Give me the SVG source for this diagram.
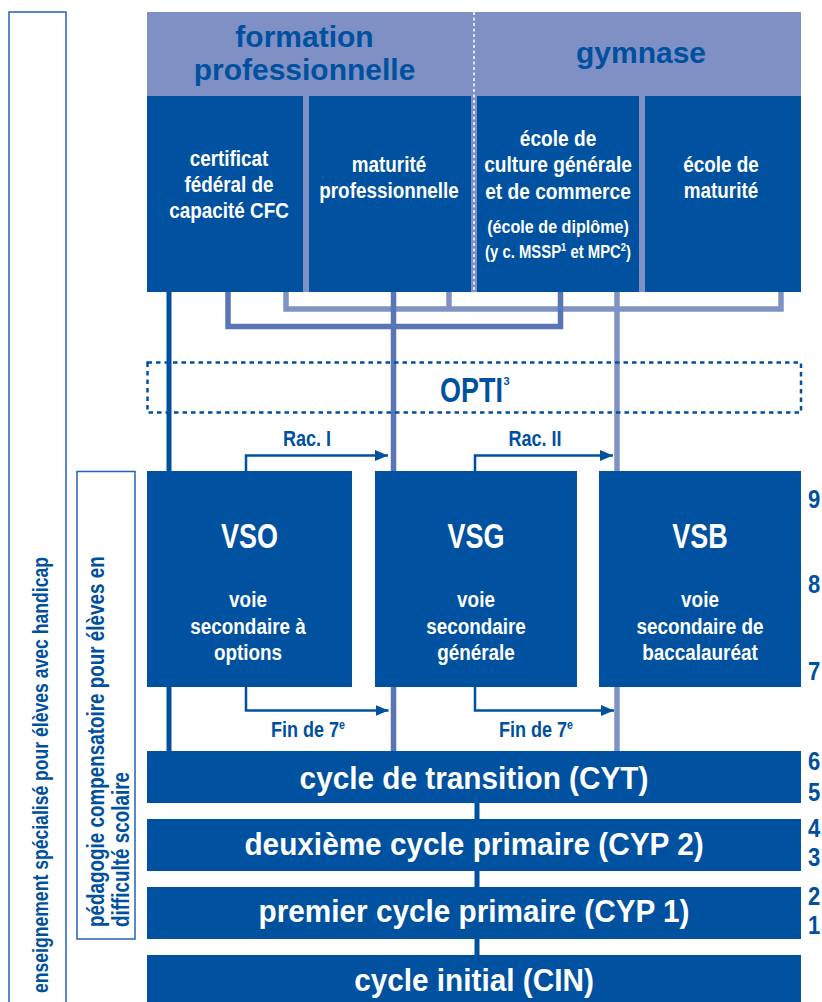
<svg xmlns="http://www.w3.org/2000/svg" width="822" height="1002" viewBox="0 0 822 1002">
<defs>
<style>
.t{font-family:"Liberation Sans",Arial,sans-serif;font-weight:bold}
.w{fill:#fff}
.b{fill:#0050a0}
.box{fill:#0052a0}
.frame{fill:none;stroke:#2462b2;stroke-width:1.5}
.dk{fill:none;stroke:#0050a0;stroke-width:5}
.md{fill:none;stroke:#5a75b6;stroke-width:5.5}
.lt{fill:none;stroke:#7f92c4;stroke-width:5.5}
.arr{fill:none;stroke:#0050a0;stroke-width:2.5;marker-end:url(#ah)}
.body{font-size:22.5px}
.title{font-size:35px}
.bar{font-size:32px}
.lab{font-size:22px}
.num{font-size:26.5px}
.head{font-size:30px}
</style>
<marker id="ah" markerUnits="userSpaceOnUse" markerWidth="14" markerHeight="12" refX="13" refY="6" orient="auto">
<path d="M0,0.5 L13,6 L0,11.5 Z" fill="#0050a0"/>
</marker>
</defs>
<rect width="822" height="1002" fill="#fff"/>

<g id="special-education">
<rect class="frame" x="9" y="12" width="57" height="1000"/>
<text class="t b" font-size="22" transform="translate(48,993) rotate(-90) scale(0.8,1)">enseignement spécialisé pour élèves avec handicap</text>
</g>

<g id="compensatory-pedagogy">
<rect class="frame" x="77" y="471.5" width="58" height="467.5"/>
<text class="t b" font-size="23" transform="translate(104,927) rotate(-90) scale(0.82,1)">pédagogie compensatoire pour élèves en</text>
<text class="t b" font-size="23" transform="translate(129,927) rotate(-90) scale(0.82,1)">difficulté scolaire</text>
</g>

<g id="header-band">
<rect x="147" y="12" width="654" height="280" fill="#7f91c4"/>
<line x1="474" y1="12" x2="474" y2="292" stroke="#fff" stroke-width="1.5" stroke-dasharray="3 2.5"/>
</g>
<g id="formation-professionnelle">
<text class="t b head" text-anchor="middle" x="304.5" y="46.5">formation</text>
<text class="t b head" text-anchor="middle" x="304.5" y="80">professionnelle</text>
</g>
<g id="gymnase">
<text class="t b head" text-anchor="middle" x="641" y="63">gymnase</text>
</g>

<g id="connectors">
<path class="lt" d="M286,292 V309 H781 V292"/>
<path class="lt" d="M449,292 V309"/>
<path class="lt" d="M617,292 V751"/>
<path class="md" d="M228,292 V326.5 H560.5 V292"/>
<path class="md" d="M393.5,292 V751"/>
<path class="dk" d="M169,292 V751"/>
<path class="dk" d="M477,803 V955"/>
<path class="arr" d="M246,471 V455.5 H388"/>
<path class="arr" d="M475,471 V455.5 H613"/>
<path class="arr" d="M246,687 V710.5 H388.5"/>
<path class="arr" d="M475,687 V710.5 H614"/>
<text class="t b lab" text-anchor="middle" transform="translate(307,446) scale(0.82,1)">Rac. I</text>
<text class="t b lab" text-anchor="middle" transform="translate(535,446) scale(0.82,1)">Rac. II</text>
<text class="t b lab" text-anchor="middle" transform="translate(308,737) scale(0.82,1)">Fin de 7<tspan font-size="13" dy="-8">e</tspan></text>
<text class="t b lab" text-anchor="middle" transform="translate(536,737) scale(0.82,1)">Fin de 7<tspan font-size="13" dy="-8">e</tspan></text>
</g>

<g id="cfc">
<rect class="box" x="147" y="96" width="156" height="196"/>
<g transform="translate(229,0) scale(0.84,1)">
<text class="t w body" text-anchor="middle" x="0" y="166">certificat</text>
<text class="t w body" text-anchor="middle" x="0" y="192">fédéral de</text>
<text class="t w body" text-anchor="middle" x="0" y="218">capacité CFC</text>
</g>
</g>

<g id="maturite-professionnelle">
<rect class="box" x="309" y="96" width="162" height="196"/>
<g transform="translate(389,0) scale(0.84,1)">
<text class="t w body" text-anchor="middle" x="0" y="172">maturité</text>
<text class="t w body" text-anchor="middle" x="0" y="198.5">professionnelle</text>
</g>
</g>

<g id="ecole-culture-generale">
<rect class="box" x="477" y="96" width="162" height="196"/>
<g transform="translate(558,0) scale(0.85,1)">
<text class="t w body" text-anchor="middle" x="0" y="146">école de</text>
<text class="t w body" text-anchor="middle" x="0" y="172.5">culture générale</text>
<text class="t w body" text-anchor="middle" x="0" y="199">et de commerce</text>
<text class="t w" font-size="19" text-anchor="middle" x="0" y="233">(école de diplôme)</text>
<text class="t w" font-size="17.5" text-anchor="middle" x="0" y="258">(y c. MSSP<tspan font-size="11" dy="-7">1</tspan><tspan dy="7"> et MPC</tspan><tspan font-size="11" dy="-7">2</tspan><tspan dy="7">)</tspan></text>
</g>
</g>

<g id="ecole-maturite">
<rect class="box" x="645" y="96" width="156" height="196"/>
<g transform="translate(721,0) scale(0.84,1)">
<text class="t w body" text-anchor="middle" x="0" y="172">école de</text>
<text class="t w body" text-anchor="middle" x="0" y="198.5">maturité</text>
</g>
</g>

<g id="opti">
<rect x="147.5" y="362.5" width="653.5" height="50" fill="none" stroke="#0050a0" stroke-width="2.5" stroke-dasharray="4.5 4"/>
<text class="t b title" text-anchor="middle" transform="translate(471.5,402) scale(0.77,1)">OPTI</text>
<text class="t b" font-size="11" x="503.5" y="385">3</text>
</g>

<g id="vso">
<rect class="box" x="147" y="471" width="205" height="216"/>
<text class="t w title" text-anchor="middle" transform="translate(249.5,548) scale(0.77,1)">VSO</text>
<g transform="translate(248,0) scale(0.84,1)">
<text class="t w body" text-anchor="middle" x="0" y="607">voie</text>
<text class="t w body" text-anchor="middle" x="0" y="634">secondaire à</text>
<text class="t w body" text-anchor="middle" x="0" y="660">options</text>
</g>
</g>

<g id="vsg">
<rect class="box" x="375" y="471" width="202" height="216"/>
<text class="t w title" text-anchor="middle" transform="translate(476,548) scale(0.77,1)">VSG</text>
<g transform="translate(476,0) scale(0.84,1)">
<text class="t w body" text-anchor="middle" x="0" y="607">voie</text>
<text class="t w body" text-anchor="middle" x="0" y="634">secondaire</text>
<text class="t w body" text-anchor="middle" x="0" y="660">générale</text>
</g>
</g>

<g id="vsb">
<rect class="box" x="599" y="471" width="202" height="216"/>
<text class="t w title" text-anchor="middle" transform="translate(700,548) scale(0.77,1)">VSB</text>
<g transform="translate(700,0) scale(0.84,1)">
<text class="t w body" text-anchor="middle" x="0" y="607">voie</text>
<text class="t w body" text-anchor="middle" x="0" y="634">secondaire de</text>
<text class="t w body" text-anchor="middle" x="0" y="660">baccalauréat</text>
</g>
</g>

<g id="cyt">
<rect class="box" x="147" y="751" width="654" height="52"/>
<text class="t w bar" text-anchor="middle" transform="translate(474,789) scale(0.93,1)">cycle de transition (CYT)</text>
</g>

<g id="cyp2">
<rect class="box" x="147" y="819" width="654" height="52"/>
<text class="t w bar" text-anchor="middle" transform="translate(474,855) scale(0.93,1)">deuxième cycle primaire (CYP 2)</text>
</g>

<g id="cyp1">
<rect class="box" x="147" y="887" width="654" height="52"/>
<text class="t w bar" text-anchor="middle" transform="translate(474,922) scale(0.93,1)">premier cycle primaire (CYP 1)</text>
</g>

<g id="cin">
<rect class="box" x="147" y="955" width="654" height="50"/>
<text class="t w bar" text-anchor="middle" transform="translate(474,991) scale(0.93,1)">cycle initial (CIN)</text>
</g>

<g id="grades">
<text class="t b num" text-anchor="middle" transform="translate(814,508) scale(0.83,1)">9</text>
<text class="t b num" text-anchor="middle" transform="translate(814,593) scale(0.83,1)">8</text>
<text class="t b num" text-anchor="middle" transform="translate(814,680) scale(0.83,1)">7</text>
<text class="t b num" text-anchor="middle" transform="translate(814,770) scale(0.83,1)">6</text>
<text class="t b num" text-anchor="middle" transform="translate(814,801) scale(0.83,1)">5</text>
<text class="t b num" text-anchor="middle" transform="translate(814,837) scale(0.83,1)">4</text>
<text class="t b num" text-anchor="middle" transform="translate(814,866) scale(0.83,1)">3</text>
<text class="t b num" text-anchor="middle" transform="translate(814,905) scale(0.83,1)">2</text>
<text class="t b num" text-anchor="middle" transform="translate(814,934) scale(0.83,1)">1</text>
</g>
</svg>
